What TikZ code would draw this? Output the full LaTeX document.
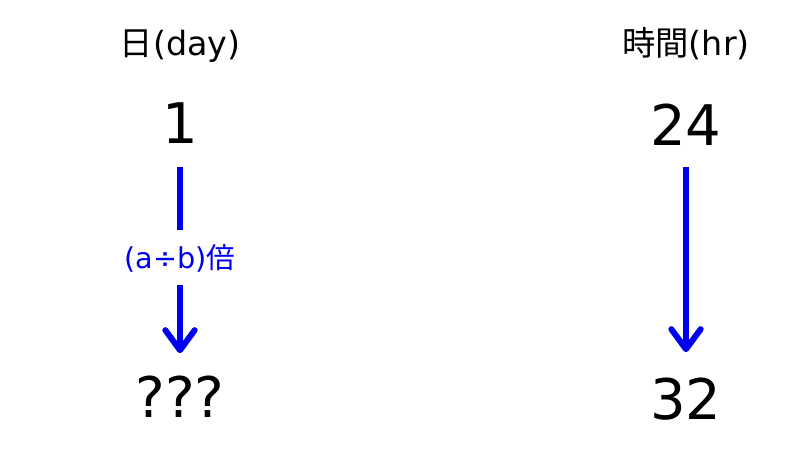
\documentclass[tikz,border=0pt]{standalone}
\usepackage{fontspec}
\setmainfont{DejaVu Sans}
\newfontfamily\cjk{Noto Sans CJK JP}
\usetikzlibrary{arrows.meta}
\definecolor{arrowblue}{RGB}{0,0,240}
\begin{document}
\begin{tikzpicture}[x=0.75pt,y=-0.75pt,
  head/.style={anchor=base,inner sep=0pt,font=\fontsize{25}{28}\selectfont},
  num/.style={anchor=base,inner sep=0pt,font=\fontsize{42}{46}\selectfont},
  lbl/.style={anchor=base,inner sep=0pt,text=arrowblue,font=\fontsize{21.5}{24}\selectfont},
  conn/.style={draw=arrowblue,line width=4.5pt},
  tipped/.style={conn,-{Straight Barb[length=15pt,width=22pt,round]}}]
\useasboundingbox (0,0) rectangle (800,450);
\node[head] (hday) at (180,55) {{\cjk 日}(day)};
\node[head] (hhr) at (686,55) {{\cjk 時間}(hr)};
\node[num] (one) at (180,143) {1};
\node[num] (tf) at (686,145) {24};
\node[num] (q) at (180,417) {???};
\node[num] (tt) at (686,419) {32};
\node[lbl] (fac) at (180,268) {(a÷b){\cjk 倍}};
\draw[conn,shorten <=18pt,shorten >=10.5pt] (one.south) -- (fac.north);
\draw[tipped,shorten <=9.75pt,shorten >=16.5pt] (fac.south) -- (q.north);
\draw[tipped,shorten <=16.5pt,shorten >=18.75pt] (tf.south) -- (tt.north);
\end{tikzpicture}
\end{document}
